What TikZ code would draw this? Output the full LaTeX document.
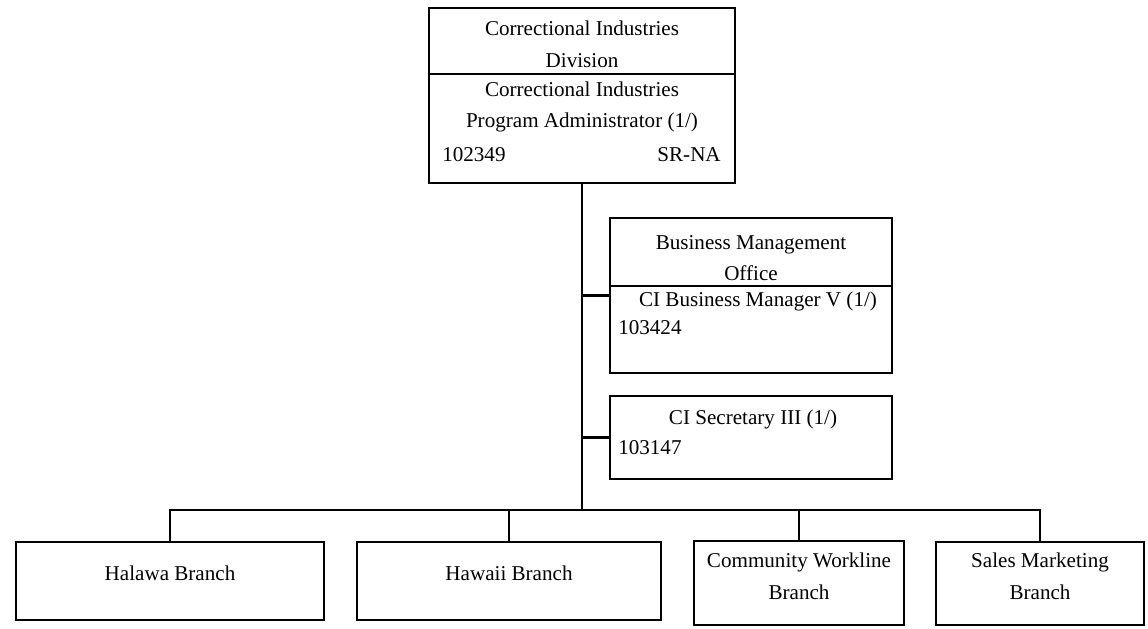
\documentclass[tikz,border=0pt]{standalone}
\usepackage{fontspec}
\setmainfont{Liberation Serif}
\usetikzlibrary{fit}

\tikzset{
  box/.style={draw, line width=1.5pt, inner sep=0pt},
  link/.style={line width=1.5pt},
  txt/.style={inner sep=0pt, align=center, font=\fontsize{15}{22.5}\selectfont},
}

\begin{document}
\begin{tikzpicture}[x=0.025cm, y=-0.025cm]
    \useasboundingbox (0,0) rectangle (1148,629);

    % --- Divisione ---
    \node[box, fit={(429,8) (735,183)}] (cid) {};
    \draw[link] (cid.west |- 0,74) -- (cid.east |- 0,74);
    \node[txt] (cidHead) at (582,44) {Correctional Industries\\Division};
    \node[txt] (cidAdmin) at (582,107) {Correctional Industries\\Program Administrator (1/)};
    \node[txt, anchor=west] (cidNum) at (442,155) {102349};
    \node[txt, anchor=east] (cidRank) at (721,155) {SR-NA};

    % --- Uffici di staff ---
    \node[box, fit={(610,218) (892,373)}] (bmo) {};
    \draw[link] (bmo.west |- 0,286) -- (bmo.east |- 0,286);
    \node[txt] (bmoHead) at (751,258) {Business Management\\Office};
    \node[txt] (bmoMgr) at (758,301) {CI Business Manager V (1/)};
    \node[txt, anchor=west] (bmoNum) at (618,328) {103424};

    \node[box, fit={(610,396) (892,479)}] (sec) {};
    \node[txt] (secTitle) at (753,419) {CI Secretary III (1/)};
    \node[txt, anchor=west] (secNum) at (618,448) {103147};

    % --- Rami ---
    \node[box, fit={(16,542) (324,620)}] (halawa) {};
    \node[txt] (halawaText) at (170,573) {Halawa Branch};
    \node[box, fit={(357,542) (661,620)}] (hawaii) {};
    \node[txt] (hawaiiText) at (509,573) {Hawaii Branch};
    \node[box, fit={(694,541) (904,625)}] (community) {};
    \node[txt] (communityText) at (799,576) {Community Workline\\Branch};
    \node[box, fit={(936,542) (1144,625)}] (sales) {};
    \node[txt] (salesText) at (1040,576) {Sales Marketing\\Branch};

    % Collegamenti
    \draw[link] (cid.south) -- (cid.south |- 0,510);
    \draw[link] (bmo.west) -- (bmo.west -| cid.south);
    \draw[link] (sec.west) -- (sec.west -| cid.south);
    \draw[link] (halawa.north) -- (halawa.north |- 0,510) -- (sales.north |- 0,510) -- (sales.north);
    \draw[link] (hawaii.north) -- (hawaii.north |- 0,510);
    \draw[link] (community.north) -- (community.north |- 0,510);
\end{tikzpicture}
\end{document}
